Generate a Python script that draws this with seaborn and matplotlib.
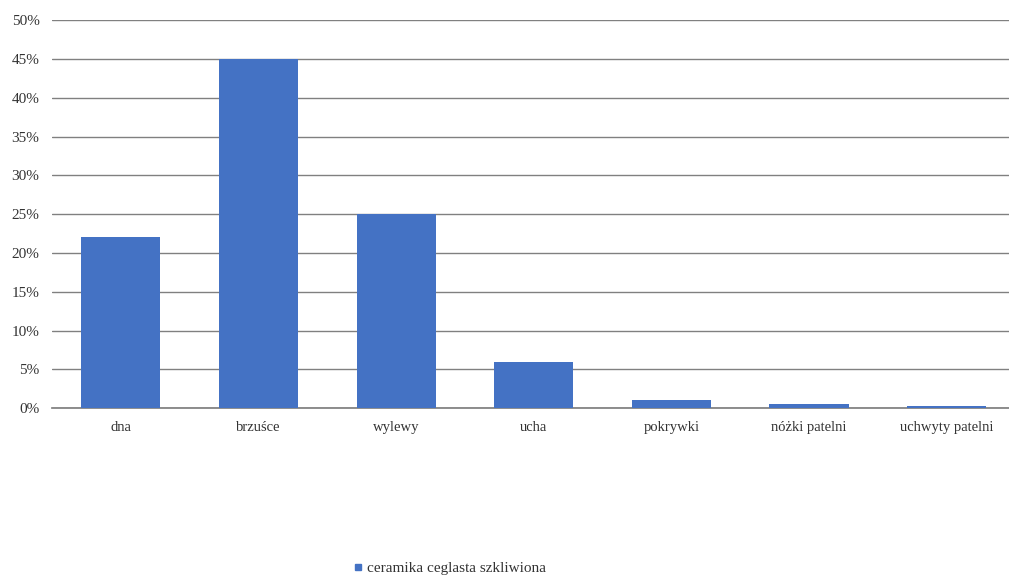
import matplotlib
matplotlib.use("Agg")
import matplotlib.pyplot as plt
from matplotlib.ticker import PercentFormatter
from matplotlib.lines import Line2D
import seaborn as sns
import pandas as pd

categories = ["dna", "brzuśce", "wylewy", "ucha", "pokrywki", "nóżki patelni", "uchwyty patelni"]
values = [22.0, 45.0, 25.0, 6.0, 1.0, 0.5, 0.3]
series_name = "ceramika ceglasta szkliwiona"
y_ticks = [0, 5, 10, 15, 20, 25, 30, 35, 40, 45, 50]

sns.set_theme(style="white")
plt.rcParams["font.family"] = ["Liberation Serif", "DejaVu Serif"]

bar_color = "#4472C4"
df = pd.DataFrame({"kategoria": categories, "udział": values})

fig = plt.figure(figsize=(10.09, 5.75), dpi=100)
ax = fig.add_axes([0.0515, 0.29, 0.955, 0.675])

sns.barplot(data=df, x="kategoria", y="udział", color=bar_color, width=0.575,
            saturation=1, linewidth=0, ax=ax, zorder=3)

ax.set_ylim(0, 50)
ax.set_yticks(y_ticks)
ax.yaxis.set_major_formatter(PercentFormatter(decimals=0))
ax.grid(axis="y", color="#808080", linewidth=1.0, zorder=0)
ax.set_axisbelow(True)
for side in ["left", "right", "top"]:
    ax.spines[side].set_visible(False)
ax.spines["bottom"].set_color("#808080")
ax.set_xlabel("")
ax.set_ylabel("")
ax.tick_params(axis="x", length=0, labelsize=10.5, colors="#333333", pad=9)
ax.tick_params(axis="y", length=0, labelsize=11, colors="#333333", pad=9)

handle = Line2D([], [], marker="s", linestyle="", color=bar_color, markersize=4)
fig.legend([handle], [series_name], loc="center", bbox_to_anchor=(0.446, 0.012),
           frameon=False, fontsize=11, handlelength=0.5, handletextpad=0.3,
           labelcolor="#333333")

fig.savefig("out.png", dpi=100)
